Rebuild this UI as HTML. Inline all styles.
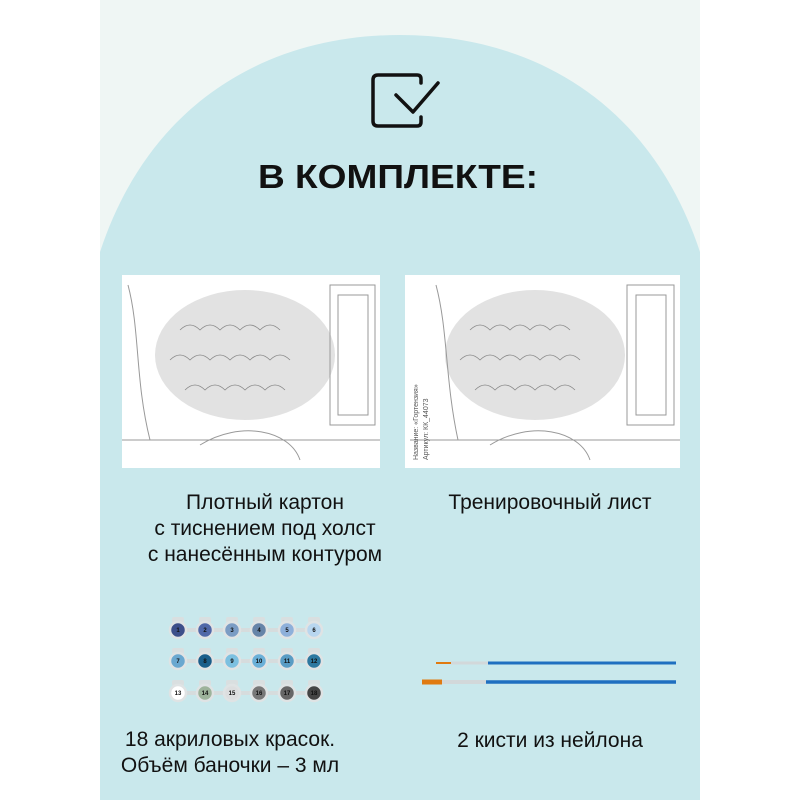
<!DOCTYPE html>
<html><head><meta charset="utf-8"><style>
body{margin:0;width:800px;height:800px;background:#fff;position:relative;overflow:hidden;font-family:"Liberation Sans",sans-serif}
.t{position:absolute;text-align:center;color:#111;font-size:21px;line-height:26px}
</style></head><body>
<svg width="800" height="800" style="position:absolute;left:0;top:0">
<rect x="100" y="0" width="600" height="800" fill="#eff6f4"/>
<path d="M100,252 C150,100 270,35 400,35 C530,35 650,100 700,252 L700,800 L100,800 Z" fill="#c9e8ec"/>
<g fill="none" stroke="#111" stroke-width="3.5" stroke-linecap="round" stroke-linejoin="round">
<path d="M421,83 L421,79 Q421,75 417,75 L378,75 Q373,75 373,80 L373,121 Q373,126 378,126 L417,126 Q421,126 421,122 L421,117"/>
<path d="M396,95 L413,112 L438,83"/>
</g>
<text x="398" y="188" text-anchor="middle" font-family="Liberation Sans,sans-serif" font-size="33" font-weight="bold" fill="#111" textLength="280" lengthAdjust="spacingAndGlyphs">В КОМПЛЕКТЕ:</text>
<rect x="122" y="275" width="258" height="193" fill="#fff"/>
<rect x="405" y="275" width="275" height="193" fill="#fff"/>
<g fill="#e2e2e2">
<ellipse cx="245" cy="355" rx="90" ry="65"/><ellipse cx="535" cy="355" rx="90" ry="65"/>
</g>
<g fill="none" stroke="#999" stroke-width="1">
<rect x="330" y="285" width="45" height="140"/><rect x="338" y="295" width="30" height="120"/>
<rect x="627" y="285" width="47" height="140"/><rect x="636" y="295" width="30" height="120"/>
<path d="M128,285 C140,330 135,380 150,440 M436,285 C448,330 445,380 458,440"/>
<path d="M122,440 L380,440 M410,440 L680,440 M200,445 C240,420 290,430 300,460 M490,445 C530,420 580,430 590,460"/>
</g>
<g fill="none" stroke="#888" stroke-width="0.8">
<path d="M180,330 q10,-10 20,0 q10,-10 20,0 q10,-10 20,0 q10,-10 20,0 q10,-10 20,0 M170,360 q10,-10 20,0 q10,-10 20,0 q10,-10 20,0 q10,-10 20,0 q10,-10 20,0 q10,-10 20,0 M185,390 q10,-10 20,0 q10,-10 20,0 q10,-10 20,0 q10,-10 20,0 q10,-10 20,0"/>
<path d="M470,330 q10,-10 20,0 q10,-10 20,0 q10,-10 20,0 q10,-10 20,0 q10,-10 20,0 M460,360 q10,-10 20,0 q10,-10 20,0 q10,-10 20,0 q10,-10 20,0 q10,-10 20,0 q10,-10 20,0 M475,390 q10,-10 20,0 q10,-10 20,0 q10,-10 20,0 q10,-10 20,0 q10,-10 20,0"/>
</g>
<text transform="translate(418,460) rotate(-90)" font-size="7" fill="#555" font-family="Liberation Sans,sans-serif">Название: «Гортензия»</text>
<text transform="translate(428,460) rotate(-90)" font-size="7" fill="#555" font-family="Liberation Sans,sans-serif">Артикул: КК_44073</text>
<g stroke="#d6dcdd" stroke-width="4"><line x1="178" y1="630" x2="314" y2="630"/><line x1="178" y1="661" x2="314" y2="661"/><line x1="178" y1="693" x2="314" y2="693"/></g>
<g fill="#d9dfe0">
<rect x="172" y="617" width="12" height="6" rx="2"/><rect x="199" y="617" width="12" height="6" rx="2"/><rect x="226" y="617" width="12" height="6" rx="2"/><rect x="253" y="617" width="12" height="6" rx="2"/><rect x="281" y="617" width="12" height="6" rx="2"/><rect x="308" y="617" width="12" height="6" rx="2"/>
<rect x="172" y="648" width="12" height="6" rx="2"/><rect x="199" y="648" width="12" height="6" rx="2"/><rect x="226" y="648" width="12" height="6" rx="2"/><rect x="253" y="648" width="12" height="6" rx="2"/><rect x="281" y="648" width="12" height="6" rx="2"/><rect x="308" y="648" width="12" height="6" rx="2"/>
<rect x="172" y="680" width="12" height="6" rx="2"/><rect x="199" y="680" width="12" height="6" rx="2"/><rect x="226" y="680" width="12" height="6" rx="2"/><rect x="253" y="680" width="12" height="6" rx="2"/><rect x="281" y="680" width="12" height="6" rx="2"/><rect x="308" y="680" width="12" height="6" rx="2"/>
</g>
<g stroke="#dfe3e4" stroke-width="2.5">
<circle cx="178" cy="630" r="8" fill="#3d4f8a"/><circle cx="205" cy="630" r="8" fill="#5068a8"/><circle cx="232" cy="630" r="8" fill="#7b9cc4"/><circle cx="259" cy="630" r="8" fill="#6684a8"/><circle cx="287" cy="630" r="8" fill="#8eb0da"/><circle cx="314" cy="630" r="8" fill="#b8d6ef"/>
<circle cx="178" cy="661" r="8" fill="#6aa8d0"/><circle cx="205" cy="661" r="8" fill="#1a5e8a"/><circle cx="232" cy="661" r="8" fill="#7cc0e0"/><circle cx="259" cy="661" r="8" fill="#6bb0d8"/><circle cx="287" cy="661" r="8" fill="#5a9cc4"/><circle cx="314" cy="661" r="8" fill="#2d78a0"/>
<circle cx="178" cy="693" r="8" fill="#fff"/><circle cx="205" cy="693" r="8" fill="#9db39b"/><circle cx="232" cy="693" r="8" fill="#dcdedf"/><circle cx="259" cy="693" r="8" fill="#777"/><circle cx="287" cy="693" r="8" fill="#666"/><circle cx="314" cy="693" r="8" fill="#444"/>
</g>
<g font-size="6" font-weight="bold" fill="#111" text-anchor="middle" font-family="Liberation Sans,sans-serif">
<text x="178" y="632">1</text><text x="205" y="632">2</text><text x="232" y="632">3</text><text x="259" y="632">4</text><text x="287" y="632">5</text><text x="314" y="632">6</text>
<text x="178" y="663">7</text><text x="205" y="663">8</text><text x="232" y="663">9</text><text x="259" y="663">10</text><text x="287" y="663">11</text><text x="314" y="663">12</text>
<text x="178" y="695">13</text><text x="205" y="695">14</text><text x="232" y="695">15</text><text x="259" y="695">16</text><text x="287" y="695">17</text><text x="314" y="695">18</text>
</g>
<line x1="436" y1="663" x2="451" y2="663" stroke="#e07a10" stroke-width="2"/>
<line x1="451" y1="663" x2="488" y2="663" stroke="#d2d8da" stroke-width="3"/>
<line x1="488" y1="663" x2="676" y2="663" stroke="#1f6fc0" stroke-width="3"/>
<line x1="422" y1="682" x2="442" y2="682" stroke="#e07a10" stroke-width="5"/>
<line x1="442" y1="682" x2="486" y2="682" stroke="#d2d8da" stroke-width="4"/>
<line x1="486" y1="682" x2="676" y2="682" stroke="#1f6fc0" stroke-width="3.5"/>
</svg>
<div class="t" style="left:130px;top:490px;width:270px">Плотный картон<br>с тиснением под холст<br>с нанесённым контуром</div>
<div class="t" style="left:410px;top:490px;width:280px">Тренировочный лист</div>
<div class="t" style="left:110px;top:727px;width:240px">18 акриловых красок.<br>Объём баночки – 3 мл</div>
<div class="t" style="left:410px;top:728px;width:280px">2 кисти из нейлона</div>
</body></html>
